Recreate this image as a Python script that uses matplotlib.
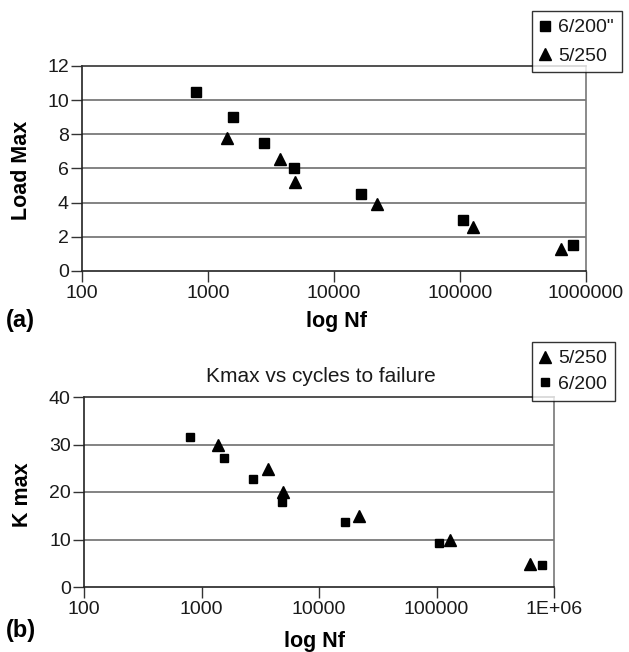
import matplotlib
matplotlib.use("Agg")
import matplotlib.pyplot as plt
from matplotlib.ticker import FixedLocator, FixedFormatter, NullLocator

plt.rcParams['font.family'] = ['Liberation Sans', 'DejaVu Sans']

# ---- data (panel a) ----
a_sq_label = '6/200"'
a_sq_x = [800, 1580, 2770, 4840, 16300, 105000, 785000]
a_sq_y = [10.5, 9.0, 7.5, 6.0, 4.5, 3.0, 1.5]
a_tri_label = '5/250'
a_tri_x = [1410, 3720, 4910, 21900, 127000, 630000]
a_tri_y = [7.8, 6.55, 5.2, 3.9, 2.6, 1.3]
a_xticks = [100, 1000, 10000, 100000, 1000000]
a_xticklabels = ['100', '1000', '10000', '100000', '1000000']
a_yticks = [0, 2, 4, 6, 8, 10, 12]

# ---- data (panel b) ----
b_tri_label = '5/250'
b_tri_x = [1390, 3700, 4910, 22000, 131000, 630000]
b_tri_y = [29.8, 24.9, 20.0, 15.0, 9.8, 4.9]
b_sq_label = '6/200'
b_sq_x = [800, 1560, 2750, 4880, 16700, 105000, 784000]
b_sq_y = [31.6, 27.2, 22.7, 18.0, 13.6, 9.2, 4.6]
b_xticks = [100, 1000, 10000, 100000, 1000000]
b_xticklabels = ['100', '1000', '10000', '100000', '1E+06']
b_yticks = [0, 10, 20, 30, 40]

W, H = 629, 652
fig = plt.figure(figsize=(W / 100, H / 100), dpi=100)

TICK_FS = 14
LEG_FS = 14
LAB_FS = 15.5


def px_axes(l, t, r, b):
    return fig.add_axes([l / W, 1 - b / H, (r - l) / W, (b - t) / H])


def style(ax, xticks, xlabels, yticks, ymax):
    ax.set_xscale('log')
    ax.set_xlim(xticks[0], xticks[-1])
    ax.set_ylim(0, ymax)
    ax.xaxis.set_major_locator(FixedLocator(xticks))
    ax.xaxis.set_major_formatter(FixedFormatter(xlabels))
    ax.xaxis.set_minor_locator(NullLocator())
    ax.set_yticks(yticks)
    ax.set_yticklabels([str(v) for v in yticks])
    for v in yticks[1:-1]:
        ax.axhline(v, color='#7a7a7a', lw=1.3, zorder=1)
    ax.spines['left'].set_color('#222222')
    ax.spines['bottom'].set_color('#222222')
    ax.spines['top'].set_color('#333333')
    ax.spines['right'].set_color('#777777')
    for s in ax.spines.values():
        s.set_linewidth(1.2)
    ax.tick_params(axis='both', direction='out', length=8, width=1.0,
                   color='#333333', labelsize=TICK_FS, labelcolor='#1a1a1a')
    ax.tick_params(axis='x', pad=2)
    ax.tick_params(axis='y', pad=1.5)


def legend(handles, top_px, spacing):
    lg = fig.legend(handles=handles, loc='upper left',
                    bbox_to_anchor=(532 / W, 1 - top_px / H), fontsize=LEG_FS,
                    frameon=True, fancybox=False, edgecolor='black',
                    handlelength=0.5, handletextpad=0.45, borderpad=0.4,
                    labelspacing=spacing, borderaxespad=0)
    lg.get_frame().set_linewidth(1.0)
    for t in lg.get_texts():
        t.set_color('#1a1a1a')
    return lg


# ---- panel a ----
ax1 = px_axes(82, 66, 586, 271)
style(ax1, a_xticks, a_xticklabels, a_yticks, 12)
h1, = ax1.plot(a_sq_x, a_sq_y, linestyle='none', marker='s', ms=7.5,
               color='black', label=a_sq_label, zorder=3)
h2, = ax1.plot(a_tri_x, a_tri_y, linestyle='none', marker='^', ms=8,
               color='black', label=a_tri_label, zorder=3)
legend([h1, h2], 11, 0.55)

fig.text(22 / W, 1 - 170 / H, 'Load Max', rotation=90, ha='center',
         va='center', fontsize=LAB_FS, fontweight='bold')
fig.text(337 / W, 1 - 322 / H, 'log Nf', ha='center', va='center',
         fontsize=LAB_FS, fontweight='bold')
fig.text(6 / W, 1 - 320 / H, '(a)', ha='left', va='center',
         fontsize=17, fontweight='bold')

# ---- panel b ----
ax2 = px_axes(84, 397, 554, 587)
style(ax2, b_xticks, b_xticklabels, b_yticks, 40)
g1, = ax2.plot(b_tri_x, b_tri_y, linestyle='none', marker='^', ms=8.5,
               color='black', label=b_tri_label, zorder=3)
g2, = ax2.plot(b_sq_x, b_sq_y, linestyle='none', marker='s', ms=5.5,
               color='black', label=b_sq_label, zorder=3)
legend([g1, g2], 342, 0.4)

fig.text(321 / W, 1 - 377 / H, 'Kmax vs cycles to failure', ha='center',
         va='center', fontsize=15, color='#1a1a1a')
fig.text(22 / W, 1 - 495 / H, 'K max', rotation=90, ha='center',
         va='center', fontsize=LAB_FS, fontweight='bold')
fig.text(315 / W, 1 - 642 / H, 'log Nf', ha='center', va='center',
         fontsize=LAB_FS, fontweight='bold')
fig.text(6 / W, 1 - 630 / H, '(b)', ha='left', va='center',
         fontsize=17, fontweight='bold')

fig.savefig('out.png', dpi=100, facecolor='white')
